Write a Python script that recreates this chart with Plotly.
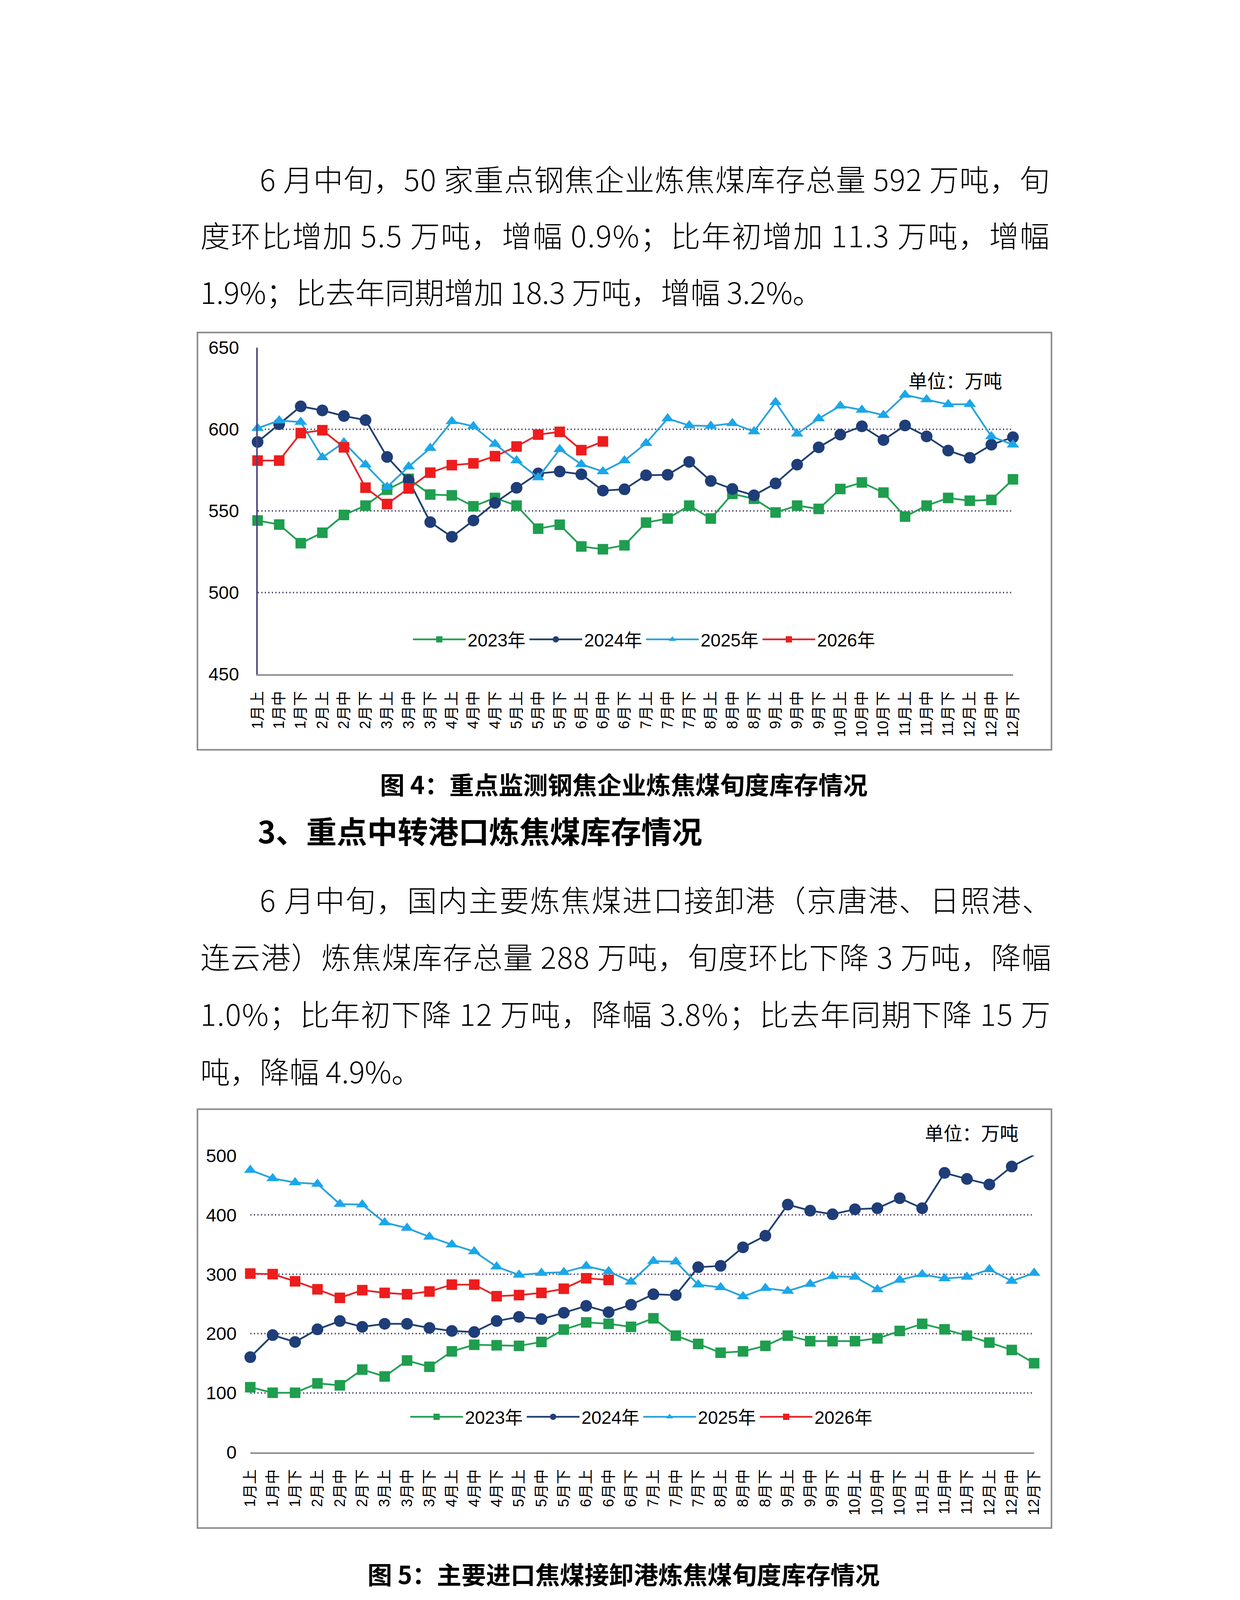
import plotly.graph_objects as go

W, H = 3175, 4490

months = [str(m) for m in range(1, 13)]
thirds = ["上", "中", "下"]
periods = [m + "月" + t for m in months for t in thirds]

years = ["2023年", "2024年", "2025年", "2026年"]

# 图4: 50家重点钢焦企业炼焦煤库存 (万吨)
steel_2023 = [544.1, 541.6, 530.2, 536.6, 547.5, 553.2, 563.0, 569.6, 560.0, 559.5, 552.8, 557.9,
              553.2, 539.1, 541.5, 528.2, 526.5, 528.9, 542.8, 545.3, 553.2, 545.3, 560.4, 557.4,
              549.0, 553.2, 551.2, 563.4, 567.4, 561.2, 546.5, 553.2, 557.9, 556.2, 556.7, 569.3]
steel_2024 = [592.2, 603.1, 614.0, 611.5, 608.1, 605.6, 583.0, 568.8, 543.1, 534.1, 544.1, 554.9,
              564.1, 572.9, 574.1, 572.4, 562.4, 563.2, 571.8, 572.1, 580.0, 568.3, 563.4, 559.5,
              566.8, 578.3, 588.9, 596.7, 601.8, 593.4, 602.3, 595.6, 586.9, 582.5, 590.5, 595.1]
steel_2025 = [600.6, 605.3, 604.4, 582.7, 591.9, 578.3, 564.6, 577.1, 588.4, 604.8, 601.8, 590.9,
              580.8, 570.4, 587.7, 578.5, 574.1, 580.8, 591.4, 606.5, 602.3, 602.0, 603.6, 598.6,
              616.5, 597.2, 606.5, 614.3, 611.8, 608.6, 621.0, 618.2, 615.2, 615.3, 595.6, 590.5]
steel_2026 = [580.8, 580.8, 597.6, 599.4, 588.9, 564.2, 554.2, 563.7, 573.4, 578.0, 579.1, 583.5,
              589.4, 596.7, 598.4, 587.2, 592.5]

# 图5: 主要进口焦煤接卸港炼焦煤库存 (万吨)
port_2023 = [109.7, 100.4, 100.4, 116.2, 112.9, 139.4, 127.8, 154.7, 144.1, 170.1, 181.2, 180.3,
             179.4, 185.9, 206.8, 218.9, 216.5, 211.4, 225.8, 196.6, 182.6, 167.8, 170.1, 179.4,
             196.6, 187.3, 187.3, 187.3, 191.9, 204.5, 216.5, 207.2, 196.6, 184.9, 172.4, 150.1]
port_2024 = [160.3, 197.5, 185.9, 207.2, 221.2, 211.4, 216.5, 216.5, 209.6, 204.5, 202.6, 221.2,
             228.2, 224.4, 235.1, 246.7, 236.1, 248.6, 266.3, 264.9, 311.8, 314.1, 345.3, 364.8,
             417.3, 407.1, 401.0, 409.4, 411.2, 428.0, 411.2, 470.7, 460.5, 451.2, 481.4, 500.9]
port_2025 = [475.4, 461.4, 454.5, 452.1, 418.2, 417.3, 387.1, 377.8, 362.9, 349.9, 338.3, 312.7,
             298.8, 302.0, 303.4, 313.7, 304.8, 287.2, 322.0, 321.1, 282.5, 277.9, 262.5, 276.5,
             271.8, 283.5, 296.5, 295.5, 274.2, 290.4, 299.7, 292.8, 295.5, 308.1, 288.6, 302.0]
port_2026 = [301.1, 300.2, 288.1, 274.6, 260.2, 273.2, 268.6, 266.3, 270.9, 282.5, 282.5, 263.0,
             264.9, 268.6, 275.6, 293.2, 290.4]

steel_ticks = [450, 500, 550, 600, 650]
port_ticks = [0, 100, 200, 300, 400, 500]

para1 = [
    "6 月中旬，50 家重点钢焦企业炼焦煤库存总量 592 万吨，旬",
    "度环比增加 5.5 万吨，增幅 0.9%；比年初增加 11.3 万吨，增幅",
    "1.9%；比去年同期增加 18.3 万吨，增幅 3.2%。",
]
para2 = [
    "6 月中旬，国内主要炼焦煤进口接卸港（京唐港、日照港、",
    "连云港）炼焦煤库存总量 288 万吨，旬度环比下降 3 万吨，降幅",
    "1.0%；比年初下降 12 万吨，降幅 3.8%；比去年同期下降 15 万",
    "吨，降幅 4.9%。",
]
caption1 = "图 4：重点监测钢焦企业炼焦煤旬度库存情况"
heading = "3、重点中转港口炼焦煤库存情况"
caption2 = "图 5：主要进口焦煤接卸港炼焦煤旬度库存情况"
unit = "单位：万吨"

colors = ["#1E9E4E", "#1F3D78", "#1AA7EA", "#EE1C1C"]
line_colors = ["#25A055", "#22406F", "#2AA3DA", "#E3262C"]
symbols = ["square", "circle", "triangle-up", "square"]
sizes = [27, 30, 28, 27]

CJK = "Noto Sans CJK SC"
NUM = "Liberation Sans, Noto Sans CJK SC"
BODY = 76


def px(x):
    return x / W


def py(y):
    return 1 - y / H


def em_width(s):
    w = 0
    for ch in s:
        if ch == " ":
            w += 0.224
        elif ch.isdigit():
            w += 0.552
        elif ch == ".":
            w += 0.26
        elif ch == "%":
            w += 0.86
        else:
            w += 1.0
    return w


def body_line(s, left, y, justify):
    # stretch full lines to the right margin like the justified source text
    text = s
    if justify:
        ls = (2673 - left - em_width(s) * BODY) / len(s)
        text = '<span style="letter-spacing:%.2fpx">%s</span>' % (ls, s)
    return dict(xref="paper", yref="paper", x=px(left), y=py(y), text=text,
                xanchor="left", yanchor="middle", showarrow=False,
                font=dict(family=CJK, size=BODY, color="black", weight=300))


fig = go.Figure()

for i, ys in enumerate([steel_2023, steel_2024, steel_2025, steel_2026]):
    fig.add_trace(go.Scatter(
        x=periods[:len(ys)], y=ys, name=years[i], mode="lines+markers",
        line=dict(color=line_colors[i], width=4.5),
        marker=dict(symbol=symbols[i], size=sizes[i], color=colors[i], line=dict(width=0)),
        cliponaxis=False, xaxis="x", yaxis="y", legend="legend"))

for i, ys in enumerate([port_2023, port_2024, port_2025, port_2026]):
    fig.add_trace(go.Scatter(
        x=periods[:len(ys)], y=ys, name=years[i], mode="lines+markers",
        line=dict(color=line_colors[i], width=4.5),
        marker=dict(symbol=symbols[i], size=sizes[i], color=colors[i], line=dict(width=0)),
        cliponaxis=False, xaxis="x2", yaxis="y2", legend="legend2"))

xcommon = dict(type="category", range=[0, len(periods) - 1], showgrid=False, showline=True,
               linecolor="#8C8C8C", linewidth=4, tickangle=-90, ticks="",
               tickfont=dict(family=NUM, size=38, color="black"), ticklabelstandoff=24,
               zeroline=False)
ycommon = dict(showgrid=True, gridcolor="#574C6E", gridwidth=3.5, griddash="3px,6px",
               ticks="", tickfont=dict(family=NUM, size=47, color="black"),
               ticklabelstandoff=34, zeroline=False)

legend_common = dict(orientation="h", xanchor="center", yanchor="middle",
                     font=dict(family=NUM, size=46, color="black"),
                     bgcolor="rgba(0,0,0,0)", itemwidth=135, traceorder="normal")

annotations = []
for k, line in enumerate(para1):
    annotations.append(body_line(line, 641 if k == 0 else 487, 426 + 146 * k, k < len(para1) - 1))
for k, line in enumerate(para2):
    annotations.append(body_line(line, 641 if k == 0 else 487, 2293 + 148 * k, k < len(para2) - 1))

common_ann = dict(xref="paper", yref="paper", showarrow=False, yanchor="middle")
annotations.append(dict(x=0.5, y=py(1994), text="<b>" + caption1 + "</b>", xanchor="center",
                        font=dict(family=CJK, size=63, color="black"), **common_ann))
annotations.append(dict(x=px(636), y=py(2115), text="<b>" + heading + "</b>", xanchor="left",
                        font=dict(family=CJK, size=78, color="black"), **common_ann))
annotations.append(dict(x=0.5, y=py(4040), text="<b>" + caption2 + "</b>", xanchor="center",
                        font=dict(family=CJK, size=63, color="black"), **common_ann))
annotations.append(dict(x=px(2572), y=py(948), text=unit, xanchor="right",
                        font=dict(family=CJK, size=48, color="black"), **common_ann))
annotations.append(dict(x=px(2615), y=py(2897), text=unit, xanchor="right",
                        font=dict(family=CJK, size=48, color="black"), **common_ann))

shapes = [
    dict(type="rect", xref="paper", yref="paper", x0=px(482), x1=px(2698), y0=py(1907), y1=py(826),
         line=dict(color="#8A8A8A", width=4), fillcolor="rgba(0,0,0,0)"),
    dict(type="rect", xref="paper", yref="paper", x0=px(482), x1=px(2698), y0=py(3923), y1=py(2838),
         line=dict(color="#8A8A8A", width=4), fillcolor="rgba(0,0,0,0)"),
]

fig.update_layout(
    width=W, height=H, margin=dict(l=0, r=0, t=0, b=0),
    paper_bgcolor="white", plot_bgcolor="rgba(0,0,0,0)",
    xaxis=dict(domain=[px(638), px(2598)], anchor="y", **xcommon),
    yaxis=dict(domain=[py(1711), py(865)], anchor="x", range=[450, 650], tickvals=steel_ticks,
               showline=True, linecolor="#4A4580", linewidth=4, **ycommon),
    xaxis2=dict(domain=[px(619), px(2653)], anchor="y2", **xcommon),
    yaxis2=dict(domain=[py(3727), py(2958)], anchor="x2", range=[0, 500], tickvals=port_ticks,
                showline=False, **ycommon),
    legend=dict(x=px(1641), y=py(1621), **legend_common),
    legend2=dict(x=px(1634), y=py(3635), **legend_common),
    annotations=annotations,
    shapes=shapes,
)

fig.write_html("out.html")
